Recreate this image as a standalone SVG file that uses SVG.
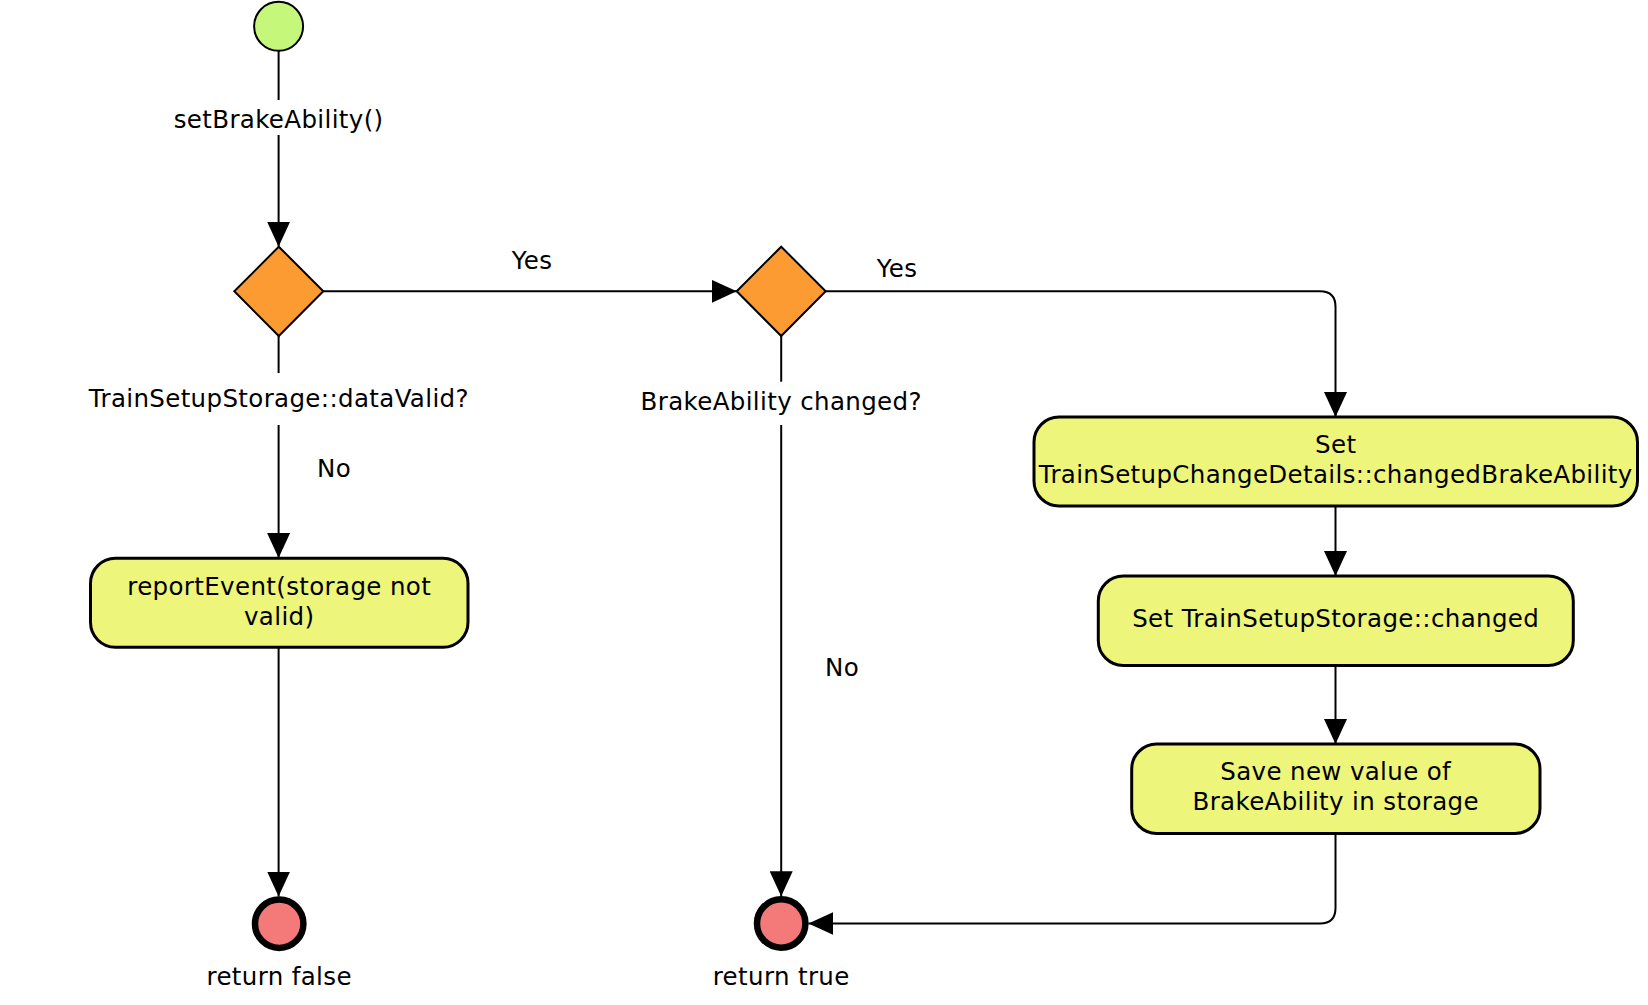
<svg xmlns="http://www.w3.org/2000/svg" width="1648" height="1005" viewBox="0 0 1648 1005">
<style>
text{font-family:"DejaVu Sans","Liberation Sans",sans-serif;font-size:24.5px;letter-spacing:0.36px;fill:#000;text-anchor:middle}
.edge{fill:none;stroke:#000;stroke-width:2}
.act{fill:#edf57b;stroke:#000;stroke-width:3}
.dec{fill:#fd9b33;stroke:#000;stroke-width:2}
.start{fill:#c4f77a;stroke:#000;stroke-width:2}
.end{fill:#f47a7a;stroke:#000;stroke-width:6.5}
</style>
<defs>
<marker id="arr" markerUnits="userSpaceOnUse" markerWidth="25" markerHeight="23" refX="25" refY="11.5" orient="auto">
<path d="M0,0 L25,11.5 L0,23 z" fill="#000"/>
</marker>
</defs>
<rect width="1648" height="1005" fill="#fff"/>
<g id="connectors">
<path class="edge" d="M278.6,51 V100"/>
<path class="edge" d="M278.6,135 V246.7" marker-end="url(#arr)"/>
<text x="278.6" y="128">setBrakeAbility()</text>
<path class="edge" d="M323.3,291.3 H736.7" marker-end="url(#arr)"/>
<text x="532" y="269">Yes</text>
<path class="edge" d="M278.6,336 V373"/>
<path class="edge" d="M278.6,425 V558" marker-end="url(#arr)"/>
<text x="334" y="477">No</text>
<path class="edge" d="M278.6,647 V896.5" marker-end="url(#arr)"/>
<path class="edge" d="M825.7,291.3 H1320 Q1335.5,291.3 1335.5,306.8 V417" marker-end="url(#arr)"/>
<text x="897" y="277">Yes</text>
<path class="edge" d="M781.2,336 V381.7"/>
<path class="edge" d="M781.2,425 V896.3" marker-end="url(#arr)"/>
<text x="842" y="676">No</text>
<path class="edge" d="M1335.5,506 V576" marker-end="url(#arr)"/>
<path class="edge" d="M1335.5,666 V744" marker-end="url(#arr)"/>
<path class="edge" d="M1335.5,834 V908 Q1335.5,923.5 1320,923.5 H808.4" marker-end="url(#arr)"/>
</g>
<g id="start">
<circle class="start" cx="278.6" cy="26.3" r="24.5"/>
</g>
<g id="decision1">
<polygon class="dec" points="278.8,246.7 323.3,291.3 278.8,336 234.3,291.3"/>
<text x="278.8" y="406.7">TrainSetupStorage::dataValid?</text>
</g>
<g id="decision2">
<polygon class="dec" points="781.2,246.7 825.7,291.3 781.2,336 736.7,291.3"/>
<text x="781.2" y="410">BrakeAbility changed?</text>
</g>
<g id="reportEvent">
<rect class="act" x="90.5" y="558.3" width="377.5" height="89" rx="25"/>
<text x="279.2" y="595">reportEvent(storage not</text>
<text x="279.2" y="625">valid)</text>
</g>
<g id="setChangedBrakeAbility">
<rect class="act" x="1034" y="417" width="603.5" height="89" rx="25"/>
<text x="1335.7" y="453">Set</text>
<text x="1335.7" y="483">TrainSetupChangeDetails::changedBrakeAbility</text>
</g>
<g id="setStorageChanged">
<rect class="act" x="1098.3" y="576" width="475" height="89.5" rx="25"/>
<text x="1335.7" y="627">Set TrainSetupStorage::changed</text>
</g>
<g id="saveValue">
<rect class="act" x="1131.7" y="744" width="408.3" height="89.5" rx="25"/>
<text x="1335.7" y="780">Save new value of</text>
<text x="1335.7" y="810">BrakeAbility in storage</text>
</g>
<g id="endFalse">
<circle class="end" cx="279.2" cy="923.7" r="24.2"/>
<text x="279.2" y="985">return false</text>
</g>
<g id="endTrue">
<circle class="end" cx="781.2" cy="923.5" r="24.2"/>
<text x="781.2" y="985">return true</text>
</g>
</svg>
